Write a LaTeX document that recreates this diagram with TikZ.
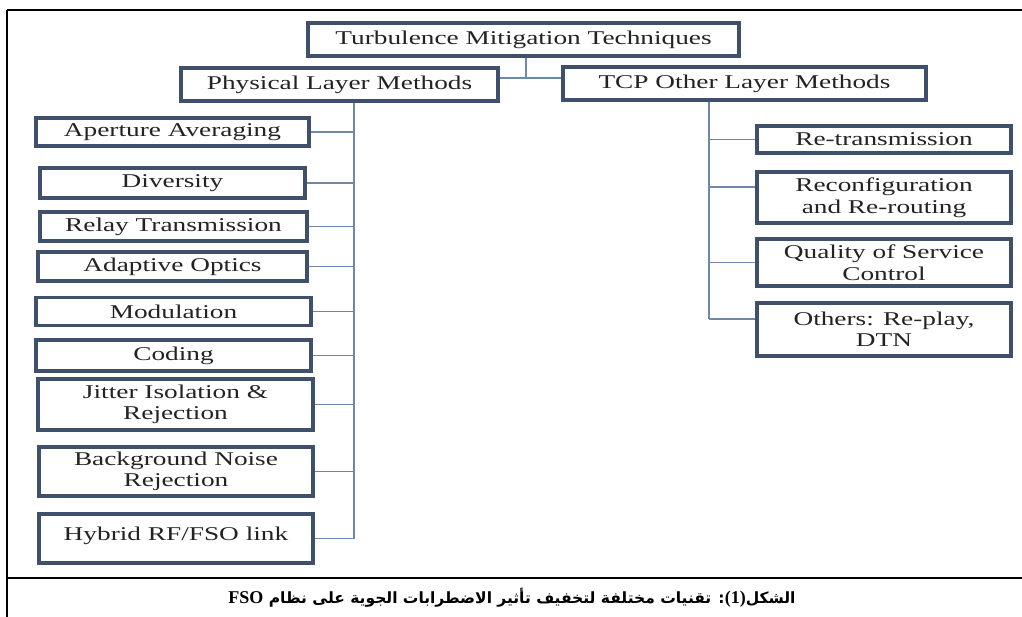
\documentclass[tikz,border=0pt]{standalone}
\usepackage{fontspec}
\setmainfont{Liberation Serif}[FakeStretch=1.4]
\newfontfamily\latinfont{Liberation Serif}
\newfontfamily\arabicfont[Script=Arabic]{DejaVu Sans}
\TeXXeTstate=1
\definecolor{boxline}{RGB}{62,80,108}
\definecolor{linkline}{RGB}{108,136,170}
\definecolor{boxtext}{RGB}{35,35,35}
\tikzset{
  method/.style={draw=boxline, line width=3.2pt, fill=white, text=boxtext, align=center, inner sep=2pt, font=\fontsize{19.5}{21.5}\selectfont},
  link/.style={draw=linkline, line width=1.4pt},
  frame/.style={line width=1.6pt}
}

\begin{document}
\begin{tikzpicture}[x=1pt, y=-1pt]
\useasboundingbox (0,0) rectangle (1022,617);
\fill[white] (0,0) rectangle (1022,617);

\draw[frame] (7,10) -- (1022,10);
\draw[frame] (7,10) -- (7,617);
\draw[line width=2.2pt] (7,578) -- (1022,578);

\node[method, minimum width=431pt, minimum height=33pt] (top) at (523.5,39.5) {Turbulence Mitigation Techniques};
\node[method, minimum width=317pt, minimum height=33pt] (phys) at (339.5,84.5) {Physical Layer Methods};
\node[method, minimum width=363pt, minimum height=33pt] (tcp) at (744.5,83.5) {TCP Other Layer Methods};

\node[method, minimum width=273pt, minimum height=28pt] (aper) at (172.5,132) {Aperture Averaging};
\node[method, minimum width=265pt, minimum height=30pt] (div) at (172.5,183) {Diversity};
\node[method, minimum width=267pt, minimum height=29pt] (relay) at (173.5,226.5) {Relay Transmission};
\node[method, minimum width=269pt, minimum height=29pt] (adapt) at (172.5,266.5) {Adaptive Optics};
\node[method, minimum width=275pt, minimum height=28pt] (modul) at (173.5,311.5) {Modulation};
\node[method, minimum width=275pt, minimum height=31pt] (coding) at (173.5,355.5) {Coding};
\node[method, minimum width=275pt, minimum height=51pt] (jitter) at (175.5,404.5) {Jitter Isolation \&\\ Rejection};
\node[method, minimum width=274pt, minimum height=49pt] (bg) at (176,471.5) {Background Noise\\ Rejection};
\node[method, minimum width=274pt, minimum height=49pt, text depth=10pt] (hybrid) at (176,538.5) {Hybrid RF/FSO link};

\node[method, minimum width=254pt, minimum height=27pt] (retx) at (884,139.5) {Re-transmission};
\node[method, minimum width=254pt, minimum height=51pt] (reconf) at (884,197.5) {Reconfiguration\\ and Re-routing};
\node[method, minimum width=254pt, minimum height=47pt] (qos) at (884,262.5) {Quality of Service\\ Control};
\node[method, minimum width=254pt, minimum height=53pt] (others) at (884,329.5) {Others: Re-play,\\ DTN};

\coordinate (fork) at (526,78);
\coordinate (lbus) at (354,0);
\coordinate (rbus) at (709,0);
\coordinate (reconf-in) at ([yshift=10.5pt]reconf.west);
\coordinate (others-in) at ([yshift=10.5pt]others.west);

\draw[link] (fork |- top.south) -- (fork);
\draw[link] (phys.east |- fork) -- (tcp.west |- fork);

\draw[link] (lbus |- phys.south) -- (lbus |- hybrid.east);
\foreach \n in {aper,div,relay,adapt,modul,coding,jitter,bg,hybrid}
  \draw[link] (\n.east) -- (\n.east -| lbus);

\draw[link] (rbus |- tcp.south) -- (rbus |- others-in);
\draw[link] (retx.west) -- (retx.west -| rbus);
\draw[link] (reconf-in) -- (reconf-in -| rbus);
\draw[link] (qos.west) -- (qos.west -| rbus);
\draw[link] (others-in) -- (others-in -| rbus);

\node[font=\arabicfont\bfseries\fontsize{15.5}{18}\selectfont] (caption) at (512,598) {\beginR الشكل\beginL{\latinfont\bfseries\fontsize{18}{18}\selectfont(1)}\endL: تقنيات مختلفة لتخفيف تأثير الاضطرابات الجوية على نظام \beginL{\latinfont\bfseries\fontsize{18}{18}\selectfont FSO}\endL\endR};
\end{tikzpicture}
\end{document}
